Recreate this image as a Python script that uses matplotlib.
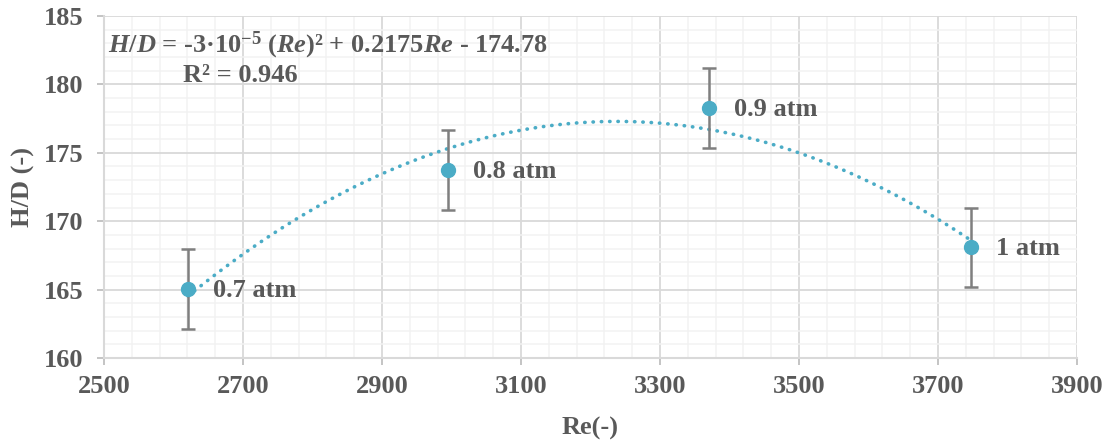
import numpy as np
import matplotlib
matplotlib.use("Agg")
import matplotlib.pyplot as plt

# -------------------------
# datos
# -------------------------
re_vals = [2621, 2995, 3370, 3747]
hd_vals = [165.05, 173.75, 178.27, 168.10]
hd_err = [2.9, 2.9, 2.9, 2.9]
labels = ["0.7 atm", "0.8 atm", "0.9 atm", "1 atm"]

x_ticks = [2500, 2700, 2900, 3100, 3300, 3500, 3700, 3900]
y_ticks = [160, 165, 170, 175, 180, 185]

eq_text = r"$\mathit{H/D}$ = -3·10$^{\mathrm{-5}}$ ($\mathit{Re}$)² + 0.2175$\mathit{Re}$ - 174.78"
r2_text = "R² = 0.946"

TEXT_C = "#595959"
PT_C = "#4BACC6"
FS = 19

plt.rcParams["font.family"] = ["Liberation Serif", "DejaVu Serif"]
plt.rcParams["font.weight"] = "bold"
plt.rcParams["mathtext.fontset"] = "custom"
plt.rcParams["mathtext.rm"] = "Liberation Serif:bold"
plt.rcParams["mathtext.it"] = "Liberation Serif:italic:bold"
plt.rcParams["mathtext.bf"] = "Liberation Serif:bold"

fig = plt.figure(figsize=(11.12, 4.46), dpi=100)
ax = fig.add_axes([0.0935, 0.1973, 0.875, 0.7668])

# linea de tendencia polinomica (orden 2)
coef = np.polyfit(re_vals, hd_vals, 2)
xs = np.linspace(min(re_vals), max(re_vals), 200)
ax.plot(xs, np.polyval(coef, xs), color=PT_C, lw=2.6,
        linestyle=(0, (0.1, 2.2)), dash_capstyle="round", zorder=3)

# barras de error
ax.errorbar(re_vals, hd_vals, yerr=hd_err, fmt="none", ecolor="#7F7F7F",
            elinewidth=1.8, capsize=5, capthick=1.8, zorder=4)
ax.plot(re_vals, hd_vals, "o", color=PT_C, markersize=10, zorder=5)

for x, y, t in zip(re_vals, hd_vals, labels):
    ax.annotate(t, (x, y), xytext=(18, -1), textcoords="offset points",
                ha="left", va="center", fontsize=FS, color=TEXT_C,
                fontweight="bold")

# ecuacion
ax.text(0.004, 0.915, eq_text, transform=ax.transAxes, fontsize=FS,
        color=TEXT_C, ha="left", va="center", fontweight="bold")
ax.text(0.14, 0.827, r2_text, transform=ax.transAxes, fontsize=FS,
        color=TEXT_C, ha="center", va="center", fontweight="bold")

# ejes
ax.set_xlim(2500, 3900)
ax.set_ylim(160, 185)
ax.set_xticks(x_ticks)
ax.set_yticks(y_ticks)
ax.set_xticks(np.arange(2500, 3901, 40), minor=True)
ax.set_yticks(np.arange(160, 186, 1), minor=True)

ax.grid(which="major", color="#D9D9D9", lw=1.3, zorder=0)
ax.grid(which="minor", color="#F2F2F2", lw=1.1, zorder=0)
ax.set_axisbelow(True)

for s in ["top", "right"]:
    ax.spines[s].set_visible(False)
for s in ["left", "bottom"]:
    ax.spines[s].set_color("#D9D9D9")
    ax.spines[s].set_linewidth(1.5)

ax.tick_params(which="major", direction="out", length=5, width=1.3,
               color="#BFBFBF", labelsize=FS, labelcolor=TEXT_C)
ax.tick_params(axis="x", pad=7)
ax.tick_params(axis="y", pad=10)
ax.tick_params(which="minor", length=0)

ax.set_xlabel("Re(-)", fontsize=FS, color=TEXT_C, fontweight="bold", labelpad=14)
ax.set_ylabel("H/D (-)", fontsize=FS, color=TEXT_C, fontweight="bold", labelpad=6)

fig.savefig("out.png", dpi=100)
